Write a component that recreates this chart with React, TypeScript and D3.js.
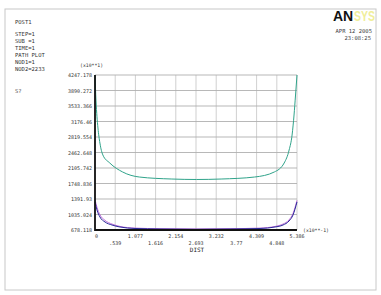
import * as d3 from "d3";
import React from "react";

// path DIST values (x10**-1) and stress readings (x10**1)
const greenDist = [0, 0.026, 0.079, 0.131, 0.21, 0.394, 0.736, 1.182, 2.049, 2.706, 3.363, 4.256, 4.782, 5.044, 5.176, 5.255, 5.307, 5.347, 5.386];
const greenVal = [4247, 3671, 3027, 2681, 2405, 2221, 2014, 1898, 1852, 1841, 1852, 1898, 2014, 2221, 2520, 2865, 3326, 3786, 4247];

const blueDist = [0, 0.053, 0.131, 0.267, 0.453, 0.667, 1.067, 1.733, 2.693, 3.6, 4.4, 4.8, 5.013, 5.173, 5.28, 5.386];
const blueVal = [1324, 1139, 978, 862, 793, 747, 713, 701, 694, 701, 713, 747, 793, 885, 1024, 1324];
const purpleVal = [1380, 1200, 1030, 900, 815, 760, 722, 708, 702, 708, 722, 760, 815, 910, 1060, 1360];

const xTickLabels = ["0", ".539", "1.077", "1.616", "2.154", "2.693", "3.232", "3.77", "4.309", "4.848", "5.386"];
const yTickLabels = ["678.118", "1035.024", "1391.93", "1748.836", "2105.742", "2462.648", "2819.554", "3176.46", "3533.366", "3890.272", "4247.178"];

const infoLines = ["POST1", "STEP=1", "SUB =1", "TIME=1", "PATH PLOT", "NOD1=1", "NOD2=2233"];

const W = 381;
const H = 295;
const left = 95;
const right = 297;
const top = 75;
const bottom = 230;
const font = "'DejaVu Sans Mono', monospace";

export default function App() {
  const xVals = xTickLabels.map(Number);
  const yVals = yTickLabels.map(Number);
  const x = d3.scaleLinear().domain([0, xVals[xVals.length - 1]]).range([left, right]);
  const y = d3.scaleLinear().domain([yVals[0], yVals[yVals.length - 1]]).range([bottom, top]);

  const line = d3
    .line<[number, number]>()
    .x((d) => x(d[0]))
    .y((d) => y(d[1]))
    .curve(d3.curveMonotoneX);

  const green = line(greenDist.map((d, i) => [d, greenVal[i]]) as [number, number][]);
  const blue = line(blueDist.map((d, i) => [d, blueVal[i]]) as [number, number][]);
  const purple = line(blueDist.map((d, i) => [d, purpleVal[i]]) as [number, number][]);

  return (
    <svg
      width={W}
      height={H}
      style={{ position: "absolute", left: 0, top: 0, display: "block", background: "#fff" }}
    >
      <rect x={5} y={9} width={371} height={281} fill="#fff" stroke="#c8c8c8" strokeWidth={1} />

      {/* header text */}
      {infoLines.map((t, i) => (
        <text key={t} x={15} y={24 + (i === 0 ? 0 : 5 + i * 7)} fontFamily={font} fontSize={5.5} fill="#333">
          {t}
        </text>
      ))}
      <text x={15} y={93} fontFamily={font} fontSize={5.5} fill="#555">
        S?
      </text>

      <text x={333} y={21} fontFamily="'Liberation Sans', Arial, sans-serif" fontWeight="bold" fontSize={14} fill="#111">
        AN
      </text>
      <text
        x={354}
        y={21}
        textLength={21}
        lengthAdjust="spacingAndGlyphs"
        fontFamily="'Liberation Sans', Arial, sans-serif"
        fontWeight="bold"
        fontSize={14}
        fill="#f0ee9a"
      >
        SYS
      </text>
      <text x={372} y={33} textAnchor="end" fontFamily={font} fontSize={5.5} fill="#444">
        APR 12 2005
      </text>
      <text x={371} y={40} textAnchor="end" fontFamily={font} fontSize={5.5} fill="#444">
        23:08:25
      </text>

      {/* grid */}
      {yVals.map((v) => (
        <line key={"gy" + v} x1={left} x2={right} y1={y(v)} y2={y(v)} stroke="#9a9a9a" strokeWidth={0.7} />
      ))}
      {xVals.map((v) => (
        <line key={"gx" + v} x1={x(v)} x2={x(v)} y1={top} y2={bottom} stroke="#b0b0b0" strokeWidth={0.6} />
      ))}

      {/* y tick labels */}
      {yTickLabels.map((t, i) => (
        <text key={"yl" + t} x={left - 3} y={y(yVals[i]) + 2} textAnchor="end" fontFamily={font} fontSize={5} fill="#333">
          {t}
        </text>
      ))}
      <text x={80} y={67} fontFamily={font} fontSize={4.8} fill="#333">
        (x10**1)
      </text>

      {/* x tick labels, alternating rows */}
      {xTickLabels.map((t, i) => (
        <text
          key={"xl" + t}
          x={x(xVals[i])}
          y={i % 2 === 0 ? 238 : 245}
          textAnchor={i === 0 ? "start" : "middle"}
          fontFamily={font}
          fontSize={5}
          fill="#333"
        >
          {t}
        </text>
      ))}
      <text x={303} y={232} fontFamily={font} fontSize={4.8} fill="#333">
        (x10**-1)
      </text>
      <text x={197} y={252} textAnchor="middle" fontFamily={font} fontSize={6} fill="#222">
        DIST
      </text>

      {/* curves */}
      <path d={green ?? ""} fill="none" stroke="#2fa38a" strokeWidth={1} />
      <path d={purple ?? ""} fill="none" stroke="#c070d8" strokeWidth={1} />
      <path d={blue ?? ""} fill="none" stroke="#2a2a9a" strokeWidth={1} />

      {/* axes */}
      <line x1={left} x2={left} y1={top} y2={bottom + 1} stroke="#111" strokeWidth={1.8} />
      <line x1={left} x2={right} y1={bottom} y2={bottom} stroke="#111" strokeWidth={1.8} />
    </svg>
  );
}
